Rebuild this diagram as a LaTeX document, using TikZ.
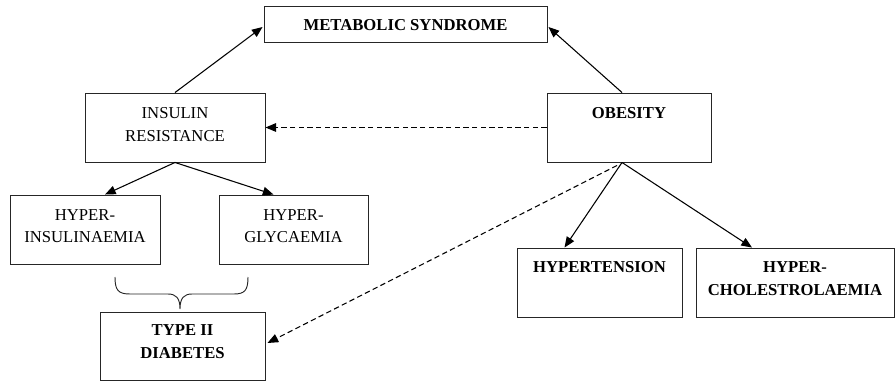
\documentclass[tikz,border=0pt]{standalone}
\usepackage{fontspec}
\setmainfont{Liberation Serif}
\usetikzlibrary{arrows.meta,calc}
\begin{document}
\begin{tikzpicture}[x=0.75pt,y=-0.75pt,
  box/.style={draw=black!85,line width=0.7pt,rectangle,inner sep=0pt},
  txt/.style={anchor=north,inner sep=0pt,align=center,font=\fontsize{12.5}{17}\selectfont},
  btxt/.style={txt,font=\fontsize{12.5}{17}\selectfont\bfseries},
  arr/.style={line width=0.8pt,-{Triangle[length=8pt,width=6.5pt]}},
  darr/.style={arr,dash pattern=on 4pt off 2.5pt}]
\useasboundingbox (0,0) rectangle (895,381);
% boxes
\node[box,minimum width={283*0.75pt},minimum height={36*0.75pt}] (ms) at (405.5,24) {};
\node[box,minimum width={180*0.75pt},minimum height={69*0.75pt}] (ir) at (175,127.5) {};
\node[box,minimum width={164*0.75pt},minimum height={69*0.75pt}] (ob) at (629,127.5) {};
\node[box,minimum width={150*0.75pt},minimum height={69*0.75pt}] (hi) at (85,229.5) {};
\node[box,minimum width={149*0.75pt},minimum height={69*0.75pt}] (hg) at (293.5,229.5) {};
\node[box,minimum width={165*0.75pt},minimum height={68*0.75pt}] (td) at (182.5,346) {};
\node[box,minimum width={165*0.75pt},minimum height={69*0.75pt}] (ht) at (599.5,282.5) {};
\node[box,minimum width={198*0.75pt},minimum height={69*0.75pt}] (hc) at (795,282.5) {};
% texts
\node[btxt] (msT) at ($(ms.north)+(0,14)$) {METABOLIC SYNDROME};
\node[txt] (irT) at ($(ir.north)+(0,14.5)$) {INSULIN\\RESISTANCE};
\node[btxt] (obT) at ($(ob.north)+(0,14.5)$) {OBESITY};
\node[txt] (hiT) at ($(hi.north)+(0,14.5)$) {HYPER-\\INSULINAEMIA};
\node[txt] (hgT) at ($(hg.north)+(0,14.5)$) {HYPER-\\GLYCAEMIA};
\node[btxt] (tdT) at ($(td.north)+(0,13)$) {TYPE II\\DIABETES};
\node[btxt] (htT) at ($(ht.north)+(0,14)$) {HYPERTENSION};
\node[btxt] (hcT) at ($(hc.north)+(0,14)$) {HYPER-\\CHOLESTROLAEMIA};
% connectors
\draw[arr] (ir.north) -- ($(ms.west)+(-1,3)$);
\draw[arr] ($(ob.north)+(-7,0)$) -- ($(ms.east)+(1,3)$);
\draw[darr] (ob.west) -- (ir.east);
\draw[arr] (ir.south) -- ($(hi.north)+(20,0)$);
\draw[arr] (ir.south) -- ($(hg.north)+(-20,0)$);
\draw[arr] ($(ob.south)+(-7,0)$) -- ($(ht.north)+(-35,0)$);
\draw[arr] ($(ob.south)+(-7,0)$) -- ($(hc.north)+(-43,0)$);
\draw[darr] ($(ob.south)+(-12,3)$) -- ($(td.east)+(2,-3)$);
% brace
\coordinate (bl) at (115,277);
\coordinate (br) at (248,277);
\draw[line width=0.7pt,black!85] (bl) .. controls (115,290) and (118,294) .. (130,294) -- (168,294)
  .. controls (176,294) and (180,298) .. (180,309)
  .. controls (180,298) and (184,294) .. (192,294) -- (234,294)
  .. controls (245,294) and (248,290) .. (br);
\end{tikzpicture}
\end{document}
